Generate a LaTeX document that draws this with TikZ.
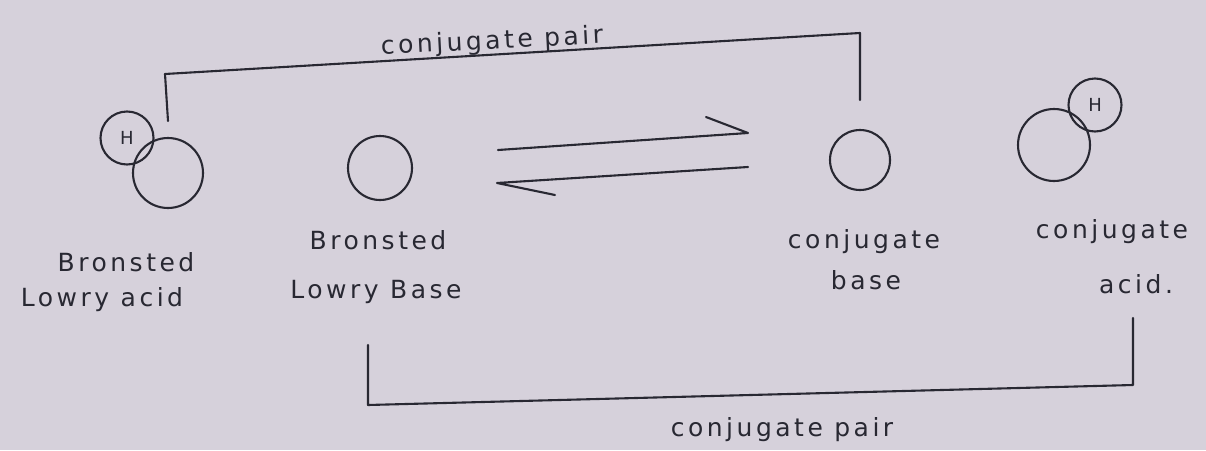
\documentclass[tikz,border=0pt]{standalone}
\usepackage{fontspec}
\setmainfont{Liberation Serif}
\newfontfamily\handfont{DejaVu Sans}[LetterSpace=14]
\begin{document}
\begin{tikzpicture}[x=1pt,y=-1pt,
  pen/.style={draw=ink,line width=2.1pt,line cap=round,line join=round},
  ball/.style={circle,pen,inner sep=0pt},
  lbl/.style={text=ink,font=\handfont\fontsize{25}{30}\selectfont,align=center,inner sep=0pt}]
\definecolor{paper}{RGB}{214,209,219}
\definecolor{ink}{RGB}{40,40,50}
\fill[paper] (0,0) rectangle (1206,450);
\useasboundingbox (0,0) rectangle (1206,450);
% molecules
\node[ball,minimum size=70pt] (acid) at (168,173) {};
\node[ball,minimum size=53pt,font=\handfont\fontsize{18}{20}\selectfont,text=ink] (acidH) at (127,138) {H};
\node[ball,minimum size=64pt] (base) at (380,168) {};
\node[ball,minimum size=60pt] (cbase) at (860,160) {};
\node[ball,minimum size=72pt] (cacid) at (1054,145) {};
\node[ball,minimum size=53pt,font=\handfont\fontsize{18}{20}\selectfont,text=ink] (cacidH) at (1095,105) {H};
% equilibrium arrows
\coordinate (f1) at (498,150); \coordinate (f2) at (748,133); \coordinate (fb) at (706,117);
\coordinate (r1) at (748,167); \coordinate (r2) at (497,183); \coordinate (rb) at (555,195);
\draw[pen] (f1) -- (f2) -- (fb);
\draw[pen] (r1) -- (r2) -- (rb);
% top conjugate pair bracket
\coordinate (t1) at (168,121); \coordinate (t2) at (165,74);
\coordinate (t3) at (860,33); \coordinate (t4) at (860,100);
\draw[pen] (t1) -- (t2) -- (t3) -- (t4);
\node[lbl,rotate=3] (toplbl) at (492,42) {conjugate pair};
% bottom conjugate pair bracket
\coordinate (b1) at (368,345); \coordinate (b2) at (368,405);
\coordinate (b3) at (1133,385); \coordinate (b4) at (1133,318);
\draw[pen] (b1) -- (b2) -- (b3) -- (b4);
\node[lbl] (botlbl) at (782,430) {conjugate pair};
% labels
\node[lbl] (l1a) at (126,262) {Bronsted};
\node[lbl] (l1b) at (102,300) {Lowry acid};
\node[lbl] (l2a) at (378,240) {Bronsted};
\node[lbl] (l2b) at (376,292) {Lowry Base};
\node[lbl] (l3a) at (864,242) {conjugate};
\node[lbl] (l3b) at (866,280) {base};
\node[lbl] (l4a) at (1112,232) {conjugate};
\node[lbl] (l4b) at (1136,284) {acid.};
\end{tikzpicture}
\end{document}
